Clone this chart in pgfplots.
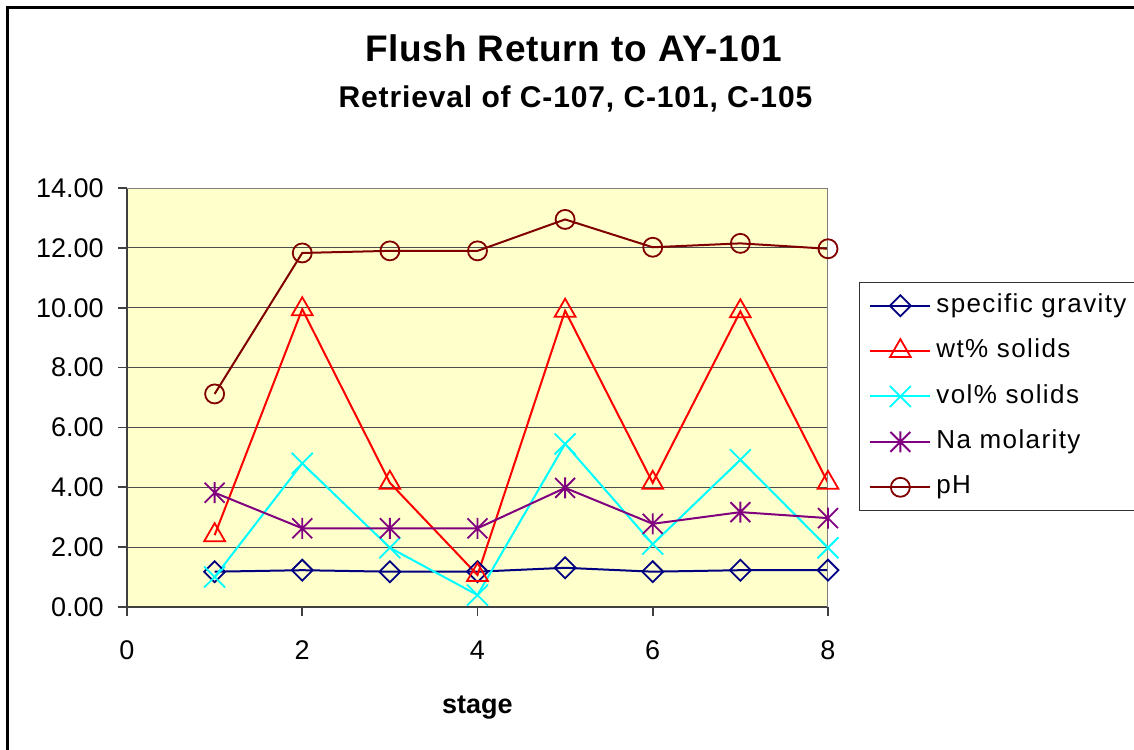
\documentclass[border=0pt]{standalone}
\usepackage{fontspec}
\setmainfont{Liberation Sans}
\newfontfamily\legfont[LetterSpace=5.4]{Liberation Sans}
\newfontfamily\subfont[LetterSpace=2.9]{Liberation Sans}
\newfontfamily\titfont[LetterSpace=2]{Liberation Sans}
\usepackage{pgfplots}
\pgfplotsset{compat=1.18}
\definecolor{sgc}{RGB}{0,0,128}
\definecolor{wtc}{RGB}{255,0,0}
\definecolor{volc}{RGB}{0,255,255}
\definecolor{nac}{RGB}{128,0,128}
\definecolor{phc}{RGB}{128,0,0}
\definecolor{plotbg}{RGB}{255,255,204}
\pgfdeclareplotmark{xlstar}{%
  \pgfpathmoveto{\pgfqpoint{0pt}{\pgfplotmarksize}}%
  \pgfpathlineto{\pgfqpoint{0pt}{-\pgfplotmarksize}}%
  \pgfpathmoveto{\pgfqpoint{-.95\pgfplotmarksize}{-.95\pgfplotmarksize}}%
  \pgfpathlineto{\pgfqpoint{.95\pgfplotmarksize}{.95\pgfplotmarksize}}%
  \pgfpathmoveto{\pgfqpoint{-.95\pgfplotmarksize}{.95\pgfplotmarksize}}%
  \pgfpathlineto{\pgfqpoint{.95\pgfplotmarksize}{-.95\pgfplotmarksize}}%
  \pgfusepathqstroke}
\pgfdeclareplotmark{xlcross}{%
  \pgfpathmoveto{\pgfqpoint{-\pgfplotmarksize}{-\pgfplotmarksize}}%
  \pgfpathlineto{\pgfqpoint{\pgfplotmarksize}{\pgfplotmarksize}}%
  \pgfpathmoveto{\pgfqpoint{-\pgfplotmarksize}{\pgfplotmarksize}}%
  \pgfpathlineto{\pgfqpoint{\pgfplotmarksize}{-\pgfplotmarksize}}%
  \pgfusepathqstroke}
\begin{document}
\begin{tikzpicture}
\useasboundingbox (0,0) rectangle (567pt,-374.5pt);
\draw[line width=1.5pt] (3.75pt,-380pt) -- (3.75pt,-3.75pt) -- (575pt,-3.75pt);
\node[anchor=base, inner sep=0pt, font=\titfont\fontsize{18.5}{22}\selectfont\bfseries] at (286.75pt,-30.85pt) {Flush Return to AY-101};
\node[anchor=base, inner sep=0pt, font=\subfont\fontsize{15}{18}\selectfont\bfseries] at (287.75pt,-53.5pt) {Retrieval of C-107, C-101, C-105};
\begin{axis}[
  at={(63.5pt,-303.5pt)}, anchor=south west,
  scale only axis, width=350.5pt, height=209.5pt,
  xmin=0, xmax=8, ymin=0, ymax=14,
  xtick={0,2,4,6,8}, ytick={0,2,...,14},
  axis lines*=left,
  axis line style={draw=black!75, line width=0.8pt},
  axis background/.style={fill=plotbg},
  ymajorgrids, grid style={black!70, line width=0.5pt},
  tick align=outside, major tick length=4.5pt,
  tick style={black!75, line width=0.8pt},
  /pgf/number format/assume math mode=true,
  tick label style={font=\fontsize{13.5}{16}\selectfont},
  yticklabel style={/pgf/number format/.cd, fixed, fixed zerofill, precision=2, /tikz/.cd, xshift=-3.6pt},
  xticklabel style={yshift=-9pt},
  xlabel={stage},
  xlabel style={font=\fontsize{13.5}{16}\selectfont\bfseries, at={(axis description cs:0.5,-0.253)}, anchor=base},
  legend cell align=left,
  legend image code/.code={\draw[mark repeat=2,mark phase=2,#1] plot coordinates {(0pt,0pt)(15pt,0pt)(30pt,0pt)};},
  legend style={at={(axis description cs:1.0442,0.7757)}, anchor=north west, draw=black!80, fill=white,
    font=\legfont\fontsize{13}{15}\selectfont, inner xsep=5pt, inner ysep=5.5pt, row sep=10.4pt, column sep=2.5pt,
    nodes={inner sep=0pt, text height=9.5pt, text depth=2.8pt}},
]
\addplot[color=sgc, line width=1pt, mark=square, mark size=3.7pt, mark options={rotate=45, solid, line width=0.9pt}]
  coordinates {(1,1.18) (2,1.23) (3,1.18) (4,1.18) (5,1.31) (6,1.18) (7,1.23) (8,1.23)};
\addlegendentry{specific gravity}
\addplot[color=wtc, line width=1pt, mark=triangle, mark size=6pt, mark options={solid, line width=0.9pt}]
  coordinates {(1,2.40) (2,9.95) (3,4.15) (4,1.07) (5,9.90) (6,4.15) (7,9.88) (8,4.15)};
\addlegendentry{wt\% solids}
\addplot[color=volc, line width=1pt, mark=xlcross, mark size=5.25pt, mark options={solid, line width=0.9pt}]
  coordinates {(1,1.00) (2,4.80) (3,1.98) (4,0.40) (5,5.45) (6,2.10) (7,4.92) (8,1.98)};
\addlegendentry{vol\% solids}
\addplot[color=nac, line width=1pt, mark=xlstar, mark size=5.25pt, mark options={solid, line width=0.9pt}]
  coordinates {(1,3.82) (2,2.63) (3,2.63) (4,2.63) (5,3.98) (6,2.78) (7,3.17) (8,2.97)};
\addlegendentry{Na molarity}
\addplot[color=phc, line width=1pt, mark=o, mark size=4.75pt, mark options={solid, line width=0.9pt}]
  coordinates {(1,7.12) (2,11.83) (3,11.90) (4,11.90) (5,12.95) (6,12.02) (7,12.15) (8,11.97)};
\addlegendentry{pH}
\draw[gray, line width=0.8pt] (rel axis cs:0,1) -- (rel axis cs:1,1) -- (rel axis cs:1,0);
\end{axis}
\end{tikzpicture}
\end{document}
